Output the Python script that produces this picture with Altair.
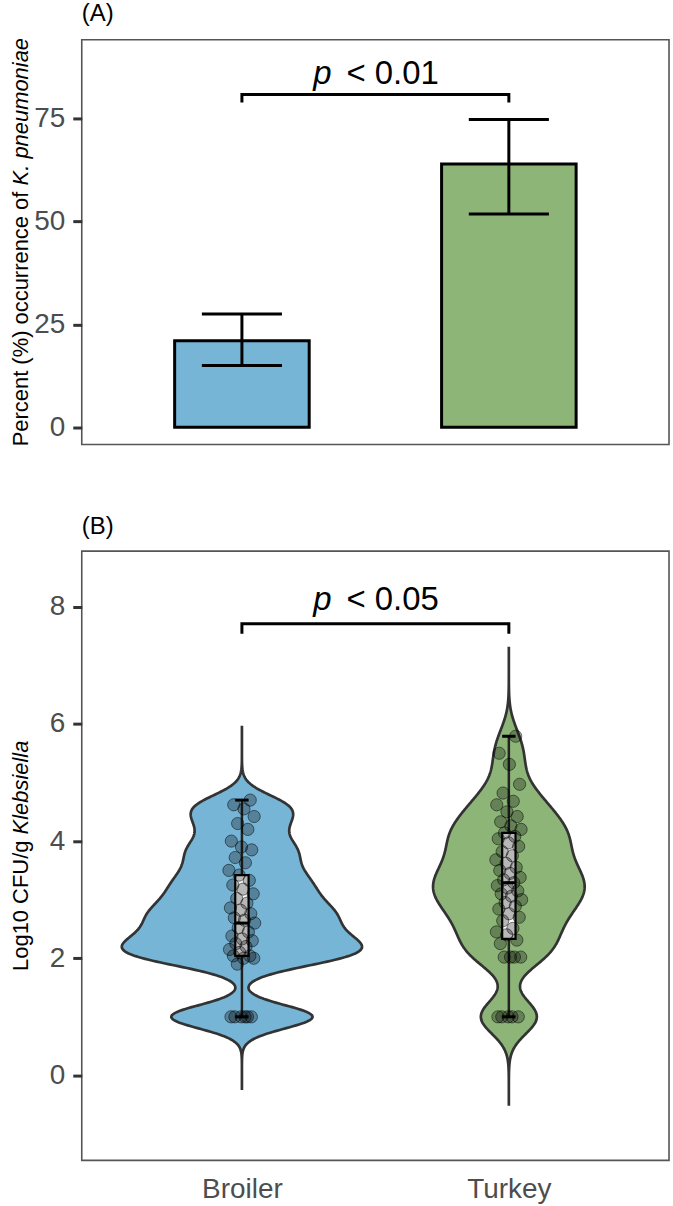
import altair as alt
import pandas as pd

FONT = "Liberation Sans"

# ---- data -------------------------------------------------------------
groups = ["Broiler", "Turkey"]
fill_colors = ["#76B5D6", "#8DB578"]

# (A) percent occurrence of K. pneumoniae with 95% confidence limits
occurrence_pct = [21.0, 64.0]
ci_low = [15.0, 51.8]
ci_high = [27.5, 74.8]

# (B) log10 CFU/g Klebsiella per sample
broiler_log_cfu = [
    1.0, 1.0, 1.0, 1.0, 1.0, 1.0,
    1.90, 2.00, 2.00, 2.04, 2.04, 2.10, 2.15, 2.20, 2.25, 2.30, 2.33, 2.38, 2.45, 2.52,
    2.60, 2.65, 2.69, 2.76, 2.82, 2.86, 2.94, 3.02,
    3.10, 3.18, 3.25, 3.33, 3.42, 3.50,
    3.63, 3.72, 3.85, 3.90, 4.00,
    4.20, 4.30, 4.42, 4.55, 4.62, 4.70,
]
turkey_log_cfu = [
    1.0, 1.0, 1.0, 1.0, 1.0,
    2.02, 2.02, 2.02, 2.02, 2.25, 2.31, 2.40, 2.45, 2.51,
    2.64, 2.70, 2.76, 2.84, 2.89, 2.95,
    3.00, 3.06, 3.10, 3.15, 3.20, 3.24, 3.29, 3.34, 3.38, 3.45, 3.50, 3.55,
    3.62, 3.68, 3.75, 3.82, 3.91, 3.97, 4.04, 4.08, 4.14, 4.20, 4.26,
    4.33, 4.42, 4.50, 4.62, 4.68, 4.82,
    4.97, 5.31, 5.50, 5.79,
]

# box-plot summaries: min, Q1, median, Q3, max
box_min = [1.0, 1.0]
box_q1 = [2.04, 2.33]
box_median = [2.60, 3.29]
box_q3 = [3.42, 4.14]
box_max = [4.70, 5.79]

# significance annotations: bracket height, bracket drop, label height
sig_a = {"label": "< 0.01", "bracket": 80.9, "drop": 2.0, "text_y": 83.5}
sig_b = {"label": "< 0.05", "bracket": 7.71, "drop": 0.17, "text_y": 7.95}

# kernel bandwidth, density extent and max half-width (category units) per violin
violin_style = {
    1: {"bw": 0.20, "extent": [-0.25, 5.97], "half": 0.45},
    2: {"bw": 0.29, "extent": [-0.52, 7.32], "half": 0.284},
}

# ---- tables -----------------------------------------------------------
bar_df = pd.DataFrame({
    "group": groups,
    "idx": [1, 2],
    "pct": occurrence_pct,
    "lo": ci_low,
    "hi": ci_high,
})

box_df = pd.DataFrame({
    "idx": [1, 2],
    "lo": box_min,
    "q1": box_q1,
    "med": box_median,
    "q3": box_q3,
    "hi": box_max,
})

points_df = pd.DataFrame({
    "group": ["Broiler"] * len(broiler_log_cfu) + ["Turkey"] * len(turkey_log_cfu),
    "idx": [1] * len(broiler_log_cfu) + [2] * len(turkey_log_cfu),
    "value": broiler_log_cfu + turkey_log_cfu,
})


def bracket_df(sig):
    top = sig["bracket"]
    low = top - sig["drop"]
    return pd.DataFrame({"x": [1, 1, 2, 2], "y": [low, top, top, low], "o": [0, 1, 2, 3]})


X_SCALE = alt.Scale(domain=[0.4, 2.6], nice=False, zero=False)
YA_SCALE = alt.Scale(domain=[-4.2, 94.2], nice=False, zero=False)
YB_SCALE = alt.Scale(domain=[-1.45, 8.95], nice=False, zero=False)

W = 589
HA = 406
HB = 611

x_axis_b = alt.Axis(
    values=[1, 2],
    labelExpr=f"{groups!r}[datum.value - 1]",
    ticks=False,
    tickSize=0,
    labelPadding=15,
    labelFlush=False,
    title=None,
)
y_axis_a = alt.Axis(values=[0, 25, 50, 75], title=None)
y_axis_b = alt.Axis(values=[0, 2, 4, 6, 8], title=None)


def xa(field):
    return alt.X(field, type="quantitative", scale=X_SCALE, axis=None, title=None)


def xb(field):
    return alt.X(field, type="quantitative", scale=X_SCALE, axis=x_axis_b, title=None)


def ya(field):
    return alt.Y(field, type="quantitative", scale=YA_SCALE, axis=y_axis_a, title=None)


def yb(field):
    return alt.Y(field, type="quantitative", scale=YB_SCALE, axis=y_axis_b, title=None)


def y_title(plain, italic, height):
    """Rotated axis title: a plain part, a word space, then an italic part."""
    size = 22
    # Liberation Sans advance widths (same as Arial), in em
    w = {" ": .278, "(": .333, ")": .333, "%": .889, ".": .278, "/": .278,
         "0": .556, "1": .556, "C": .722, "F": .611, "U": .722, "K": .667,
         "L": .556, "P": .667, "a": .556, "b": .556, "c": .5, "e": .556,
         "f": .278, "g": .556, "i": .222, "l": .222, "m": .833, "n": .556,
         "o": .556, "p": .556, "r": .333, "s": .5, "t": .278, "u": .556}
    gap = w[" "] * size
    w1 = sum(w.get(c, .556) for c in plain) * size
    w2 = sum(w.get(c, .556) for c in italic) * size
    bottom = height / 2 + (w1 + gap + w2) / 2
    one = alt.Data(values=[{}])
    first = alt.Chart(one).mark_text(
        angle=270, align="left", baseline="middle", font=FONT, fontSize=size, color="black"
    ).encode(x=alt.value(-61), y=alt.value(bottom), text=alt.value(plain))
    second = alt.Chart(one).mark_text(
        angle=270, align="left", baseline="middle", font=FONT, fontSize=size,
        fontStyle="italic", color="black"
    ).encode(x=alt.value(-61), y=alt.value(bottom - w1 - gap), text=alt.value(italic))
    return [first, second]


def sig_layers(sig, xfun, yfun):
    br = alt.Chart(bracket_df(sig)).mark_line(color="black", strokeWidth=3).encode(
        x=xfun("x"), y=yfun("y"), order="o:Q"
    )
    one = pd.DataFrame({"x": [1.5], "y": [sig["text_y"]]})
    p = alt.Chart(one).mark_text(
        text="p", align="right", baseline="alphabetic", dx=-44, font=FONT,
        fontSize=33, fontStyle="italic", color="black"
    ).encode(x=xfun("x"), y=yfun("y"))
    rest = alt.Chart(one).mark_text(
        text=sig["label"], align="left", baseline="alphabetic", dx=-29, font=FONT,
        fontSize=33, color="black"
    ).encode(x=xfun("x"), y=yfun("y"))
    return [br, p, rest]


fill_scale = alt.Scale(domain=groups, range=fill_colors)

# ---- panel A: bars with confidence limits ------------------------------
bars = alt.Chart(bar_df).transform_calculate(
    bl="datum.idx - 0.252", br="datum.idx + 0.252"
).mark_bar(stroke="black", strokeWidth=3).encode(
    x=xa("bl"), x2="br",
    y=ya("pct"), y2=alt.datum(0),
    fill=alt.Fill("group:N", scale=fill_scale, legend=None),
)
err = alt.Chart(bar_df).mark_rule(color="black", strokeWidth=3).encode(
    x=xa("idx"), y=ya("lo"), y2="hi"
)
caps = alt.Chart(bar_df).transform_fold(["lo", "hi"], as_=["end", "v"]).transform_calculate(
    cl="datum.idx - 0.15", cr="datum.idx + 0.15"
).mark_rule(color="black", strokeWidth=3).encode(x=xa("cl"), x2="cr", y=ya("v"))

panel_a = alt.layer(
    bars, err, caps, *sig_layers(sig_a, xa, ya),
    *y_title("Percent (%) occurrence of", "K. pneumoniae", HA),
).properties(width=W, height=HA, title=alt.TitleParams("(A)"))

# ---- panel B: violins, box plots and samples ---------------------------
violins = []
for i, color in zip([1, 2], fill_colors):
    st = violin_style[i]
    violins.append(
        alt.Chart(points_df).transform_filter(alt.datum.idx == i).transform_density(
            "value", as_=["v", "dens"], bandwidth=st["bw"], extent=st["extent"], steps=400
        ).transform_joinaggregate(dmax="max(dens)").transform_calculate(
            xl=f"{i} - datum.dens / datum.dmax * {st['half']}",
            xr=f"{i} + datum.dens / datum.dmax * {st['half']}",
        ).mark_area(
            orient="horizontal", fill=color, stroke="#333333", strokeWidth=2.7
        ).encode(y=yb("v"), x=xb("xl"), x2="xr")
    )

stats = alt.Chart(box_df).transform_calculate(bl="datum.idx - 0.025", br="datum.idx + 0.025")

whisker = stats.mark_rule(color="#222222", strokeWidth=2.5).encode(x=xb("idx"), y=yb("lo"), y2="hi")
cap_lo = stats.mark_rule(color="black", strokeWidth=3).encode(x=xb("bl"), x2="br", y=yb("lo"))
cap_hi = stats.mark_rule(color="black", strokeWidth=3).encode(x=xb("bl"), x2="br", y=yb("hi"))
box = stats.mark_bar(fill="white", stroke="black", strokeWidth=2.2).encode(
    x=xb("bl"), x2="br", y=yb("q1"), y2="q3"
)
median = stats.mark_rule(color="black", strokeWidth=3).encode(x=xb("bl"), x2="br", y=yb("med"))

samples = alt.Chart(points_df).transform_window(
    k="row_number()", groupby=["idx"]
).transform_calculate(
    xj="datum.idx + ((datum.k * 0.618034) % 1 - 0.5) * 0.1"
).mark_circle(
    size=150, fill="black", fillOpacity=0.28, stroke="black", strokeOpacity=0.5, strokeWidth=1
).encode(x=xb("xj"), y=yb("value"))

panel_b = alt.layer(
    *violins, whisker, box, median, cap_lo, cap_hi, samples, *sig_layers(sig_b, xb, yb),
    *y_title("Log10 CFU/g", "Klebsiella", HB),
).properties(width=W, height=HB, title=alt.TitleParams("(B)"))

chart = alt.vconcat(panel_a, panel_b, spacing=67).properties(
    padding={"left": 9, "top": -1, "right": 3, "bottom": 0}
).configure_view(
    stroke="#555555", strokeWidth=1.6
).configure_axis(
    grid=False, domain=False, labelFont=FONT, labelFontSize=28, labelColor="#4D4D4D",
    tickColor="#333333", tickWidth=3, tickSize=9, labelPadding=8,
).configure_title(
    font=FONT, fontSize=24, fontWeight="normal", color="black", anchor="start",
    frame="group", offset=12, baseline="alphabetic",
)

chart.save("out.html", embed_options={"renderer": "svg", "actions": False})
